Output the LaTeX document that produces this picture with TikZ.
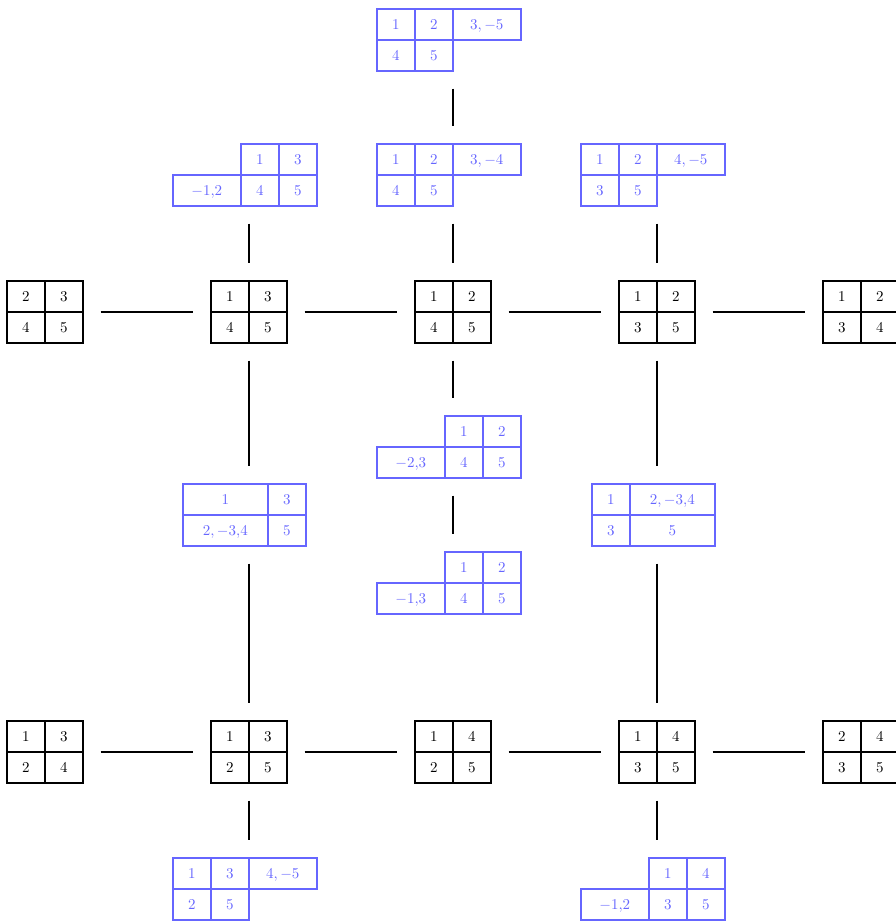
\documentclass[tikz,border=0pt]{standalone}
\usetikzlibrary{matrix}
\definecolor{tabblue}{RGB}{102,102,255}

\begin{document}
\begin{tikzpicture}[x=0.6667pt, y=-0.6667pt,
  tab/.style={matrix of nodes, inner sep=0pt, outer sep=0pt, anchor=north west,
              column sep=-1.1pt, row sep=-1.1pt,
              nodes={draw, line width=1.1pt, minimum width=25.33pt, minimum height=20.67pt,
                     inner sep=0pt, text height=6.5pt, text depth=0pt, anchor=center}},
  btab/.style={tab, nodes={draw=tabblue, text=tabblue}},
  wide/.style={minimum width=45.33pt},
  wider/.style={minimum width=56.67pt},
  link/.style={line width=1.1pt, shorten <=11.3pt, shorten >=11.3pt}
]
\useasboundingbox (0,0) rectangle (895,922);

% Top row of tableaux
\matrix[tab] (t1) at (6,280)   {2 & 3 \\ 4 & 5 \\};
\matrix[tab] (t2) at (210,280) {1 & 3 \\ 4 & 5 \\};
\matrix[tab] (t3) at (414,280) {1 & 2 \\ 4 & 5 \\};
\matrix[tab] (t4) at (618,280) {1 & 2 \\ 3 & 5 \\};
\matrix[tab] (t5) at (822,280) {1 & 2 \\ 3 & 4 \\};

% Bottom row of tableaux
\matrix[tab] (b1) at (6,720)   {1 & 3 \\ 2 & 4 \\};
\matrix[tab] (b2) at (210,720) {1 & 3 \\ 2 & 5 \\};
\matrix[tab] (b3) at (414,720) {1 & 4 \\ 2 & 5 \\};
\matrix[tab] (b4) at (618,720) {1 & 4 \\ 3 & 5 \\};
\matrix[tab] (b5) at (822,720) {2 & 4 \\ 3 & 5 \\};

% Blue tableaux above
\matrix[btab] (q0) at (376,8)   {1 & 2 & |[wide]| $3,-5$ \\ 4 & 5 \\};
\matrix[btab] (q2) at (172,143) {& 1 & 3 \\ |[wide]| $-1{,}2$ & 4 & 5 \\};
\matrix[btab] (q3) at (376,143) {1 & 2 & |[wide]| $3,-4$ \\ 4 & 5 \\};
\matrix[btab] (q4) at (580,143) {1 & 2 & |[wide]| $4,-5$ \\ 3 & 5 \\};

% Blue tableaux in the middle
\matrix[btab] (m2)  at (182,483) {|[wider]| 1 & 3 \\ |[wider]| $2,-3{,}4$ & 5 \\};
\matrix[btab] (m3a) at (376,415) {& 1 & 2 \\ |[wide]| $-2{,}3$ & 4 & 5 \\};
\matrix[btab] (m3b) at (376,551) {& 1 & 2 \\ |[wide]| $-1{,}3$ & 4 & 5 \\};
\matrix[btab] (m4)  at (591,483) {1 & |[wider]| $2,-3{,}4$ \\ 3 & |[wider]| 5 \\};

% Blue tableaux below
\matrix[btab] (d2) at (172,857) {1 & 3 & |[wide]| $4,-5$ \\ 2 & 5 \\};
\matrix[btab] (d4) at (580,857) {& 1 & 4 \\ |[wide]| $-1{,}2$ & 3 & 5 \\};

% Horizontal links
\draw[link] (t1) -- (t2);
\draw[link] (t2) -- (t3);
\draw[link] (t3) -- (t4);
\draw[link] (t4) -- (t5);
\draw[link] (b1) -- (b2);
\draw[link] (b2) -- (b3);
\draw[link] (b3) -- (b4);
\draw[link] (b4) -- (b5);

% Vertical links
\draw[link] (q0.south -| t3) -- (t3 |- q3.north);
\draw[link] (q2.south -| t2) -- (t2.north);
\draw[link] (q3.south -| t3) -- (t3.north);
\draw[link] (q4.south -| t4) -- (t4.north);
\draw[link] (t2.south) -- (t2 |- m2.north);
\draw[link] (m2.south -| t2) -- (b2.north);
\draw[link] (t3.south) -- (t3 |- m3a.north);
\draw[link] (m3a.south -| t3) -- (t3 |- m3b.north);
\draw[link] (t4.south) -- (t4 |- m4.north);
\draw[link] (m4.south -| t4) -- (b4.north);
\draw[link] (b2.south) -- (b2 |- d2.north);
\draw[link] (b4.south) -- (b4 |- d4.north);
\end{tikzpicture}
\end{document}
